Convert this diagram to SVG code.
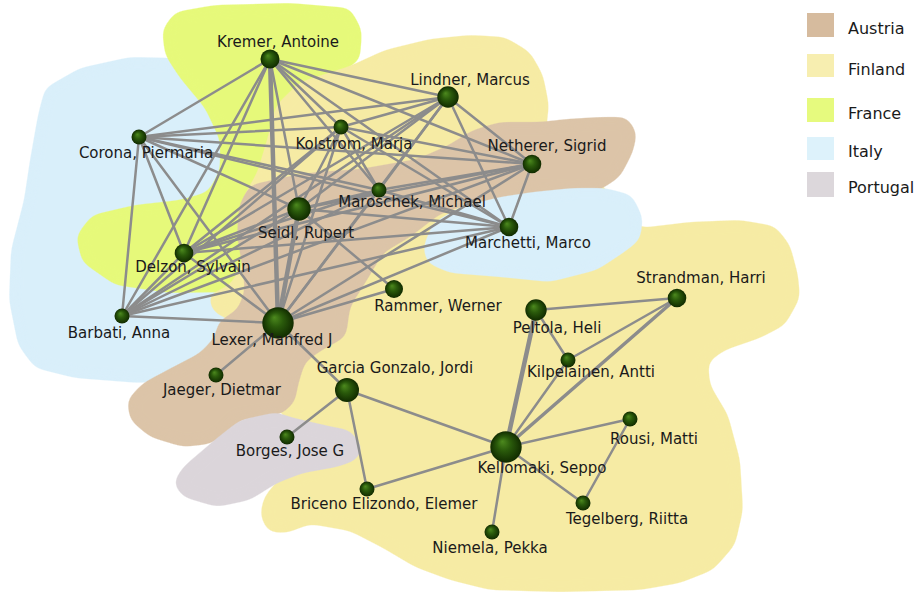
<svg xmlns="http://www.w3.org/2000/svg" width="917" height="594" viewBox="0 0 917 594">
<defs>
<filter id="blob" x="-10%" y="-10%" width="120%" height="120%">
<feGaussianBlur stdDeviation="6"/>
<feComponentTransfer><feFuncA type="linear" slope="12" intercept="-5.5"/></feComponentTransfer>
</filter>
<radialGradient id="ball" cx="50%" cy="50%" r="50%" fx="38%" fy="32%">
<stop offset="0%" stop-color="#4d8a1e"/>
<stop offset="45%" stop-color="#2a5a0b"/>
<stop offset="100%" stop-color="#112b00"/>
</radialGradient>
<style>
.e{stroke:#8c8c8c;stroke-width:2.5;fill:none;stroke-linecap:round}
.t{stroke-width:4.5}
.m{stroke-width:3.5}
.n{fill:url(#ball)}
.r{filter:url(#blob)}
.l{font-family:"DejaVu Sans",Verdana,sans-serif;font-size:15px;fill:#1a1a1a;text-anchor:middle}
.lg{font-family:"DejaVu Sans",Verdana,sans-serif;font-size:16px;fill:#1a1a1a}
</style>
</defs>
<rect width="917" height="594" fill="#ffffff"/>
<g id="regions">
<polygon id="italy-main" class="r" fill="#d9effa" points="45,88 80,68 130,57 175,58 215,90 245,140 258,200 255,300 235,350 190,378 140,383 75,378 35,368 18,345 9,300 11,250 24,200 30,160 38,115"/>
<polygon id="france" class="r" fill="#e6f97a" points="162,30 175,12 215,5 290,3 350,8 362,30 360,60 330,80 290,110 272,160 272,230 276,262 262,282 230,292 170,293 115,285 82,262 76,236 92,215 135,205 180,200 208,192 220,170 220,140 205,108 180,78 165,55"/>
<polygon id="finland" class="r" fill="#f6eba4" points="243,197 257,173 267,140 276,105 300,82 350,66 385,50 430,39 470,35 505,37 530,52 543,75 549,105 546,130 580,160 615,200 640,228 690,222 740,220 775,226 790,245 798,275 800,298 785,325 760,338 725,350 708,362 710,385 728,415 740,460 743,510 735,545 713,570 680,583 640,590 560,592 490,590 450,580 415,567 383,548 350,531 310,524 287,533 268,532 260,515 264,497 278,480 305,470 340,460 345,440 320,425 285,420 270,395 270,365 250,330 213,312 208,295 230,285 245,260"/>
<polygon id="austria" class="r" fill="#dcc4a8" points="250,185 290,176 317,172 360,169 417,159 447,146 473,130 500,122 540,122 567,119 600,117 627,117 637,133 633,152 620,177 600,190 577,194 540,192 500,198 460,207 440,214 410,237 383,253 367,280 350,307 346,337 322,350 305,362 298,385 295,402 282,414 240,420 225,435 210,444 183,447 150,437 130,420 127,400 143,383 173,367 200,353 215,337 218,322 238,309 245,290 242,265 237,235 239,205"/>
<polygon id="italy-small" class="r" fill="#d9effa" points="423,247 433,223 460,207 500,197 533,192 573,188 605,188 632,195 643,218 640,240 623,253 597,270 550,282 500,277 450,273 427,263"/>
<polygon id="portugal" class="r" fill="#dbd5da" points="363,447 350,430 333,427 290,417 277,412 240,420 217,438 183,467 173,483 183,497 217,507 250,500 277,483 303,473 337,467 357,460"/>
</g>
<g id="connectors">
<line class="e" x1="270" y1="59" x2="448" y2="97"/>
<line class="e" x1="270" y1="59" x2="341" y2="127"/>
<line class="e" x1="270" y1="59" x2="139" y2="137"/>
<line class="e" x1="270" y1="59" x2="532" y2="164"/>
<line class="e" x1="270" y1="59" x2="379" y2="190"/>
<line class="e" x1="270" y1="59" x2="299" y2="209"/>
<line class="e" x1="270" y1="59" x2="509" y2="227"/>
<line class="e" x1="270" y1="59" x2="184" y2="253"/>
<line class="e" x1="270" y1="59" x2="122" y2="316"/>
<line class="e t" x1="270" y1="59" x2="278" y2="323"/>
<line class="e" x1="448" y1="97" x2="341" y2="127"/>
<line class="e" x1="448" y1="97" x2="139" y2="137"/>
<line class="e" x1="448" y1="97" x2="532" y2="164"/>
<line class="e" x1="448" y1="97" x2="379" y2="190"/>
<line class="e" x1="448" y1="97" x2="299" y2="209"/>
<line class="e" x1="448" y1="97" x2="509" y2="227"/>
<line class="e" x1="448" y1="97" x2="184" y2="253"/>
<line class="e" x1="448" y1="97" x2="122" y2="316"/>
<line class="e" x1="448" y1="97" x2="278" y2="323"/>
<line class="e" x1="341" y1="127" x2="139" y2="137"/>
<line class="e" x1="341" y1="127" x2="532" y2="164"/>
<line class="e" x1="341" y1="127" x2="379" y2="190"/>
<line class="e" x1="341" y1="127" x2="299" y2="209"/>
<line class="e" x1="341" y1="127" x2="509" y2="227"/>
<line class="e" x1="341" y1="127" x2="184" y2="253"/>
<line class="e" x1="341" y1="127" x2="122" y2="316"/>
<line class="e" x1="341" y1="127" x2="278" y2="323"/>
<line class="e" x1="139" y1="137" x2="532" y2="164"/>
<line class="e" x1="139" y1="137" x2="379" y2="190"/>
<line class="e" x1="139" y1="137" x2="299" y2="209"/>
<line class="e" x1="139" y1="137" x2="509" y2="227"/>
<line class="e" x1="139" y1="137" x2="184" y2="253"/>
<line class="e" x1="139" y1="137" x2="122" y2="316"/>
<line class="e" x1="139" y1="137" x2="278" y2="323"/>
<line class="e" x1="532" y1="164" x2="379" y2="190"/>
<line class="e" x1="532" y1="164" x2="299" y2="209"/>
<line class="e" x1="532" y1="164" x2="509" y2="227"/>
<line class="e" x1="532" y1="164" x2="184" y2="253"/>
<line class="e" x1="532" y1="164" x2="122" y2="316"/>
<line class="e" x1="532" y1="164" x2="278" y2="323"/>
<line class="e" x1="379" y1="190" x2="299" y2="209"/>
<line class="e" x1="379" y1="190" x2="509" y2="227"/>
<line class="e" x1="379" y1="190" x2="184" y2="253"/>
<line class="e" x1="379" y1="190" x2="122" y2="316"/>
<line class="e" x1="379" y1="190" x2="278" y2="323"/>
<line class="e" x1="299" y1="209" x2="509" y2="227"/>
<line class="e" x1="299" y1="209" x2="184" y2="253"/>
<line class="e" x1="299" y1="209" x2="122" y2="316"/>
<line class="e t" x1="299" y1="209" x2="278" y2="323"/>
<line class="e" x1="509" y1="227" x2="184" y2="253"/>
<line class="e" x1="509" y1="227" x2="122" y2="316"/>
<line class="e" x1="509" y1="227" x2="278" y2="323"/>
<line class="e" x1="184" y1="253" x2="122" y2="316"/>
<line class="e" x1="184" y1="253" x2="278" y2="323"/>
<line class="e" x1="122" y1="316" x2="278" y2="323"/>
<line class="e" x1="299" y1="209" x2="394" y2="289"/>
<line class="e" x1="278" y1="323" x2="394" y2="289"/>
<line class="e" x1="278" y1="323" x2="216" y2="375"/>
<line class="e" x1="278" y1="323" x2="347" y2="390"/>
<line class="e" x1="347" y1="390" x2="287" y2="437"/>
<line class="e" x1="347" y1="390" x2="367" y2="489"/>
<line class="e" x1="347" y1="390" x2="506" y2="447"/>
<line class="e" x1="367" y1="489" x2="506" y2="447"/>
<line class="e" x1="506" y1="447" x2="492" y2="532"/>
<line class="e" x1="506" y1="447" x2="583" y2="503"/>
<line class="e" x1="506" y1="447" x2="630" y2="419"/>
<line class="e" x1="630" y1="419" x2="583" y2="503"/>
<line class="e t" x1="506" y1="447" x2="536" y2="310"/>
<line class="e" x1="506" y1="447" x2="568" y2="360"/>
<line class="e m" x1="506" y1="447" x2="677" y2="298"/>
<line class="e" x1="536" y1="310" x2="677" y2="298"/>
<line class="e" x1="536" y1="310" x2="568" y2="360"/>
<line class="e" x1="568" y1="360" x2="677" y2="298"/>
</g>
<g id="kremer"><circle class="n" cx="270" cy="59" r="9.5"/><text class="l" x="278" y="47">Kremer, Antoine</text></g>
<g id="lindner"><circle class="n" cx="448" cy="97" r="10.7"/><text class="l" x="470" y="85">Lindner, Marcus</text></g>
<g id="kolstrom"><circle class="n" cx="341" cy="127" r="7.5"/><text class="l" x="354" y="149">Kolstrom, Marja</text></g>
<g id="corona"><circle class="n" cx="139" cy="137" r="7.5"/><text class="l" x="146" y="158">Corona, Piermaria</text></g>
<g id="netherer"><circle class="n" cx="532" cy="164" r="9.3"/><text class="l" x="547" y="151">Netherer, Sigrid</text></g>
<g id="maroschek"><circle class="n" cx="379" cy="190" r="7.5"/><text class="l" x="412" y="207">Maroschek, Michael</text></g>
<g id="seidl"><circle class="n" cx="299" cy="209" r="11.7"/><text class="l" x="306" y="238">Seidl, Rupert</text></g>
<g id="marchetti"><circle class="n" cx="509" cy="227" r="9.3"/><text class="l" x="528" y="248">Marchetti, Marco</text></g>
<g id="delzon"><circle class="n" cx="184" cy="253" r="9.3"/><text class="l" x="193" y="272">Delzon, Sylvain</text></g>
<g id="rammer"><circle class="n" cx="394" cy="289" r="9"/><text class="l" x="438" y="311">Rammer, Werner</text></g>
<g id="barbati"><circle class="n" cx="122" cy="316" r="7.5"/><text class="l" x="119" y="338">Barbati, Anna</text></g>
<g id="lexer"><circle class="n" cx="278" cy="323" r="15.7"/><text class="l" x="272" y="345">Lexer, Manfred J</text></g>
<g id="peltola"><circle class="n" cx="536" cy="310" r="10.7"/><text class="l" x="557" y="333">Peltola, Heli</text></g>
<g id="strandman"><circle class="n" cx="677" cy="298" r="9.3"/><text class="l" x="701" y="283">Strandman, Harri</text></g>
<g id="kilpelainen"><circle class="n" cx="568" cy="360" r="7.5"/><text class="l" x="591" y="377">Kilpelainen, Antti</text></g>
<g id="jaeger"><circle class="n" cx="216" cy="375" r="7.5"/><text class="l" x="222" y="395">Jaeger, Dietmar</text></g>
<g id="garcia"><circle class="n" cx="347" cy="390" r="12"/><text class="l" x="395" y="373">Garcia Gonzalo, Jordi</text></g>
<g id="borges"><circle class="n" cx="287" cy="437" r="7.5"/><text class="l" x="290" y="456">Borges, Jose G</text></g>
<g id="kellomaki"><circle class="n" cx="506" cy="447" r="15.7"/><text class="l" x="542" y="473">Kellomaki, Seppo</text></g>
<g id="rousi"><circle class="n" cx="630" cy="419" r="7.5"/><text class="l" x="654" y="444">Rousi, Matti</text></g>
<g id="briceno"><circle class="n" cx="367" cy="489" r="7.5"/><text class="l" x="384" y="509">Briceno Elizondo, Elemer</text></g>
<g id="tegelberg"><circle class="n" cx="583" cy="503" r="7.5"/><text class="l" x="627" y="524">Tegelberg, Riitta</text></g>
<g id="niemela"><circle class="n" cx="492" cy="532" r="7.5"/><text class="l" x="490" y="553">Niemela, Pekka</text></g>
<g id="legend">
<rect x="807" y="13" width="27" height="24" fill="#d6bb9e"/><text class="lg" x="848" y="34">Austria</text>
<rect x="807" y="54" width="27" height="23" fill="#f7eeb0"/><text class="lg" x="848" y="75">Finland</text>
<rect x="807" y="98" width="27" height="24" fill="#e6fa7e"/><text class="lg" x="848" y="119">France</text>
<rect x="807" y="137" width="27" height="23" fill="#ddf2fb"/><text class="lg" x="848" y="157">Italy</text>
<rect x="807" y="172" width="27" height="25" fill="#dcd7db"/><text class="lg" x="848" y="193">Portugal</text>
</g>
</svg>
